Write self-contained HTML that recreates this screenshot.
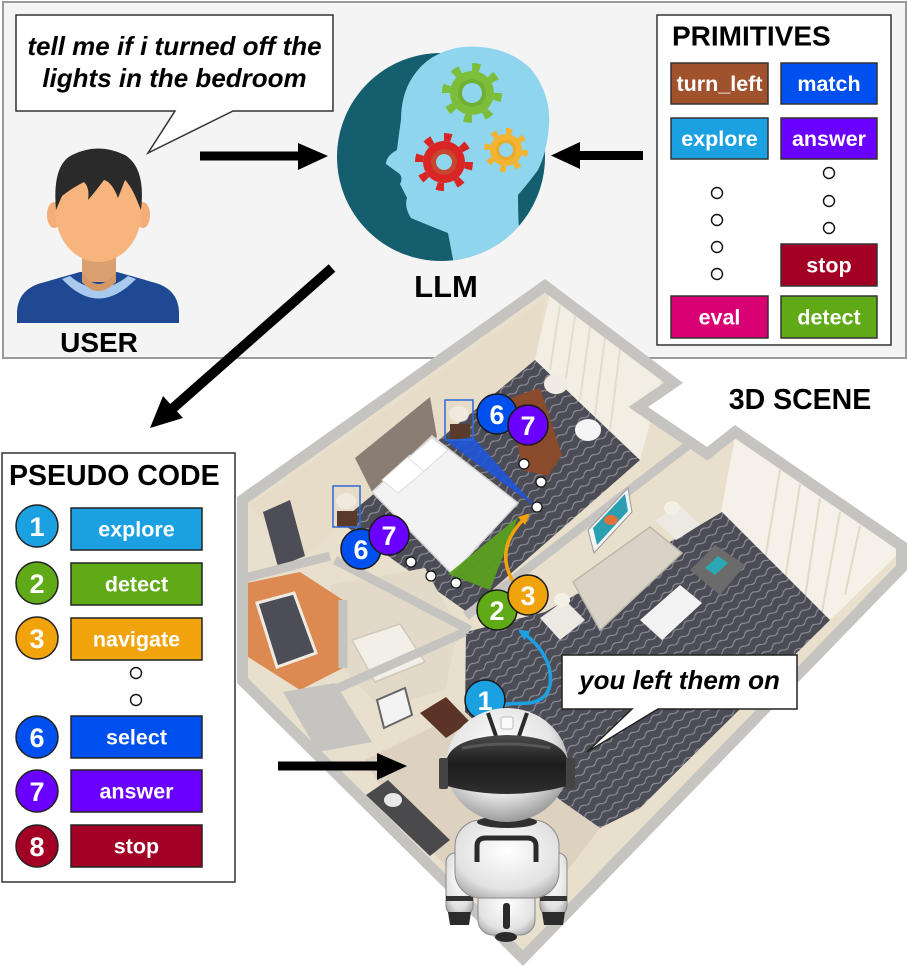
<!DOCTYPE html>
<html><head><meta charset="utf-8"><style>
html,body{margin:0;padding:0;background:#fff;}
svg{display:block;}
text{font-family:"Liberation Sans",Arial,sans-serif;font-weight:bold;}
</style></head><body>
<svg width="908" height="968" viewBox="0 0 908 968" xmlns="http://www.w3.org/2000/svg">
<defs>
<pattern id="carpet" width="14" height="9" patternUnits="userSpaceOnUse" patternTransform="rotate(-38)">
<rect width="14" height="9" fill="#4c4c56"/>
<path d="M0,4.5 Q3.5,1.5 7,4.5 T14,4.5" stroke="#8e8e98" stroke-width="1.1" fill="none"/>
</pattern>
<clipPath id="bld"><polygon points="237,497 545,279 683,383 648,407 707,447 735,425 907,543 907,570 523,966 237,683"/></clipPath>
<clipPath id="headclip"><circle cx="441" cy="157" r="104"/><rect x="380" y="30" width="180" height="135"/></clipPath>
<radialGradient id="rhead" cx="0.45" cy="0.35" r="0.65"><stop offset="0" stop-color="#ffffff"/><stop offset="0.65" stop-color="#e4e4e4"/><stop offset="1" stop-color="#9c9c9c"/></radialGradient>
<radialGradient id="rbody" cx="0.5" cy="0.4" r="0.7"><stop offset="0" stop-color="#ffffff"/><stop offset="0.7" stop-color="#e2e2e2"/><stop offset="1" stop-color="#a5a5a5"/></radialGradient>
<linearGradient id="visor" x1="0" y1="0" x2="0" y2="1"><stop offset="0" stop-color="#4a4a4a"/><stop offset="0.5" stop-color="#1c1c1c"/><stop offset="1" stop-color="#2e2e2e"/></linearGradient>
<marker id="mo" viewBox="0 0 10 10" refX="8" refY="5" markerWidth="11" markerHeight="11" orient="auto" markerUnits="userSpaceOnUse"><path d="M0,0 L10,5 L0,10 z" fill="#f0a30a"/></marker>
<marker id="mb" viewBox="0 0 10 10" refX="8" refY="5" markerWidth="11" markerHeight="11" orient="auto" markerUnits="userSpaceOnUse"><path d="M0,0 L10,5 L0,10 z" fill="#1ba1e2"/></marker>
</defs>

<!-- top panel -->
<rect x="3" y="2" width="903" height="356" fill="#f4f4f4" stroke="#9a9a9a" stroke-width="2"/>

<!-- user speech bubble -->
<path d="M16,15 H333 V111 H233 L148,153 L175,111 H16 Z" fill="#fff" stroke="#333" stroke-width="1.5"/>
<text x="174.5" y="55" font-size="26" font-style="italic" text-anchor="middle" fill="#000">tell me if i turned off the</text>
<text x="174.5" y="87" font-size="26" font-style="italic" text-anchor="middle" fill="#000">lights in the bedroom</text>

<!-- user icon -->
<path d="M17,323 L17,312 Q18,288 45,282 Q62,277 80,272 L117,272 Q135,277 152,282 Q178,288 179,312 L179,323 Z" fill="#1f4a93"/>
<path d="M62,279 Q98,318 136,279 L128,276 Q98,300 70,276 Z" fill="#a9c9ee"/>
<rect x="82" y="250" width="34" height="32" fill="#dba06f"/>
<path d="M82,272 Q98,296 116,272 L116,282 Q98,300 82,282 Z" fill="#d49867"/>
<ellipse cx="54" cy="215" rx="7" ry="13" fill="#f4ad76"/>
<ellipse cx="143" cy="215" rx="7" ry="13" fill="#f4ad76"/>
<ellipse cx="98.5" cy="212" rx="43" ry="50" fill="#f8b47d"/>
<path d="M56,210 Q52,165 72,155 Q98,142 125,155 Q146,168 141,210 L136,198 Q131,186 125,180 L118,198 Q112,182 104,180 Q95,192 88,200 Q90,188 84,182 Q72,188 62,196 Z" fill="#2a2a2a"/>
<text x="99" y="352" font-size="28" text-anchor="middle" fill="#000">USER</text>

<!-- arrow user -> LLM -->
<rect x="200" y="151.5" width="100" height="9" fill="#000"/>
<polygon points="298,143 328,156 298,170" fill="#000"/>

<!-- LLM icon -->
<circle cx="441" cy="157" r="104" fill="#155e6d"/>
<path clip-path="url(#headclip)" d="M455,270 L448,233 Q425,224 411,218 Q404,207 407,198 L400,184 Q404,176 397,172 L386,164 Q386,156 397,150 Q399,133 401,120 Q401,95 412,78 Q428,52 462,47 Q506,44 531,69 Q551,94 549,125 Q547,152 538,170 Q526,186 518,195 Q518,230 522,270 Z" fill="#8fd5ee"/>
<g>
<circle cx="472" cy="93" r="26" fill="none" stroke="#7cbd3a" stroke-width="8" stroke-dasharray="8 12.4"/>
<circle cx="472" cy="93" r="22" fill="#7cbd3a"/>
<circle cx="472" cy="93" r="14" fill="#6fb033"/>
<circle cx="472" cy="93" r="10" fill="#8fd5ee"/>
</g>
<g>
<circle cx="444" cy="162" r="25" fill="none" stroke="#da2525" stroke-width="8" stroke-dasharray="7.5 12.1"/>
<circle cx="444" cy="162" r="21" fill="#da2525"/>
<circle cx="444" cy="162" r="13" fill="#c7452d"/>
<circle cx="444" cy="162" r="8" fill="#8fd5ee"/>
</g>
<g>
<circle cx="506" cy="150" r="19" fill="none" stroke="#f2b431" stroke-width="6" stroke-dasharray="6 8.9"/>
<circle cx="506" cy="150" r="16" fill="#f2b431"/>
<circle cx="506" cy="150" r="10" fill="#e9a92a"/>
<circle cx="506" cy="150" r="7" fill="#8fd5ee"/>
</g>
<text x="446" y="297" font-size="31" text-anchor="middle" fill="#000">LLM</text>

<!-- arrow primitives -> LLM -->
<rect x="578" y="151" width="65" height="9" fill="#000"/>
<polygon points="580,142 551,155.5 580,169" fill="#000"/>

<!-- primitives box -->
<rect x="657" y="15" width="234" height="330" fill="#fff" stroke="#333" stroke-width="1.5"/>
<text x="672" y="45.5" font-size="28" fill="#000">PRIMITIVES</text>
<g stroke="#333" stroke-width="1.5">
<rect x="671" y="63" width="97" height="41" fill="#a0522d"/>
<rect x="781" y="63" width="96" height="41" fill="#0050ef"/>
<rect x="671" y="118" width="97" height="41" fill="#1ba1e2"/>
<rect x="781" y="118" width="96" height="41" fill="#6a00ff"/>
<rect x="781" y="244" width="96" height="42" fill="#a20025"/>
<rect x="671" y="296" width="97" height="42" fill="#d80073"/>
<rect x="781" y="296" width="96" height="42" fill="#60a917"/>
</g>
<g font-size="21.5" fill="#fff" text-anchor="middle">
<text x="719.5" y="91">turn_left</text>
<text x="829" y="91">match</text>
<text x="719.5" y="146">explore</text>
<text x="829" y="146">answer</text>
<text x="829" y="272.5">stop</text>
<text x="719.5" y="324.5">eval</text>
<text x="829" y="324.5">detect</text>
</g>
<g fill="#fff" stroke="#111" stroke-width="1.4">
<circle cx="717" cy="193" r="5.5"/><circle cx="717" cy="220" r="5.5"/><circle cx="717" cy="247" r="5.5"/><circle cx="717" cy="274" r="5.5"/>
<circle cx="829" cy="173" r="5.5"/><circle cx="829" cy="201" r="5.5"/><circle cx="829" cy="228" r="5.5"/>
</g>

<!-- diagonal arrow LLM -> pseudo code -->
<line x1="332" y1="268" x2="172" y2="409" stroke="#000" stroke-width="10"/>
<polygon points="150,428 163,396 183,418" fill="#000"/>

<!-- ===== 3D SCENE ===== -->
<g clip-path="url(#bld)">
<polygon points="237,497 545,279 683,383 648,407 707,447 735,425 907,543 907,570 523,966 237,683" fill="#e8dfcd"/>
<polygon points="250,505 545,298 535,360 340,522 300,560" fill="#e6dcc8"/>
<polygon points="550,293 662,378 640,460 535,360" fill="#f3eee4"/>
<g stroke="#e2dccf" stroke-width="2"><line x1="560" y1="305" x2="550" y2="370"/><line x1="575" y1="316" x2="565" y2="385"/><line x1="590" y1="327" x2="580" y2="400"/><line x1="605" y1="338" x2="595" y2="415"/><line x1="620" y1="349" x2="610" y2="430"/></g>
<polygon points="735,437 900,552 830,620 720,517" fill="#f5f1e9"/>
<g stroke="#e0d9cb" stroke-width="2"><line x1="780" y1="470" x2="765" y2="560"/><line x1="800" y1="484" x2="785" y2="580"/><line x1="820" y1="498" x2="805" y2="598"/><line x1="840" y1="512" x2="822" y2="612"/><line x1="860" y1="526" x2="845" y2="595"/></g>
<polygon points="340,522 535,360 640,460 467,612" fill="url(#carpet)"/>
<polygon points="466,632 545,612 700,525 722,512 830,620 640,808 600,828 560,800 465,712" fill="url(#carpet)"/>
<polygon points="365,760 463,712 560,800 600,828 560,880 480,900 400,820" fill="#ddd2bf"/>
<polygon points="330,585 425,568 458,628 445,690 380,708 343,668" fill="#e2d9c9"/>
<polygon points="352,640 400,624 425,662 375,682" fill="#f2efe9" stroke="#cfc7b8" stroke-width="1.5"/>
<polygon points="237,585 300,572 343,600 343,668 300,690 237,650" fill="#dd8a52"/>
<polygon points="257,603 294,593 316,653 277,667" fill="#4d4d57" stroke="#f0ebe2" stroke-width="3"/>
<polygon points="263,512 290,500 305,556 278,567" fill="#4d4d57"/>
<g stroke="#c6c4c0" stroke-width="9" fill="none">
<line x1="700" y1="436" x2="466" y2="616"/>
<line x1="335" y1="560" x2="470" y2="630"/>
<line x1="300" y1="705" x2="465" y2="632"/>
<line x1="237" y1="580" x2="330" y2="556"/>
<line x1="343" y1="600" x2="343" y2="668"/>
</g>
<polygon points="283,692 335,683 372,742 318,752" fill="#c6c4c0"/>
<polygon points="237,497 545,279 683,383 648,407 707,447 735,425 907,543 907,570 523,966 237,683" fill="none" stroke="#c6c4c0" stroke-width="22"/>
<polygon points="355,458 430,397 437,437 372,492" fill="#8a7d74"/>
<polygon points="372,492 432,436 518,503 452,574" fill="#f3f3f3" stroke="#d4d4d4" stroke-width="1.5"/>
<polygon points="382,480 410,455 428,468 398,493" fill="#ffffff" stroke="#ddd" stroke-width="1"/>
<polygon points="408,458 432,438 448,450 424,471" fill="#ffffff" stroke="#ddd" stroke-width="1"/>
<rect x="450" y="424" width="20" height="16" fill="#5a3a2a"/>
<ellipse cx="459" cy="414" rx="10" ry="8" fill="#efe9de"/>
<rect x="337" y="511" width="20" height="16" fill="#5a3a2a"/>
<ellipse cx="346" cy="501" rx="10" ry="8" fill="#efe9de"/>
<polygon points="510,398 540,388 562,455 548,476 522,470" fill="#8a4a2c"/>
<ellipse cx="588" cy="430" rx="13" ry="11" fill="#f5f5f5"/>
<ellipse cx="556" cy="384" rx="12" ry="10" fill="#f0ece4"/>
<polygon points="588,530 628,488 632,512 594,553" fill="#f4f4f4" stroke="#999" stroke-width="1"/>
<polygon points="593,528 625,494 628,511 597,545" fill="#2a9fb2"/>
<ellipse cx="611" cy="520" rx="7" ry="5" fill="#e2703a"/>
<polygon points="573,582 650,527 682,553 600,630" fill="#d9d3c7" stroke="#bfb8aa" stroke-width="1.5"/>
<polygon points="540,618 565,600 585,620 560,640" fill="#ece9e3"/>
<polygon points="655,520 680,505 700,525 676,540" fill="#ece9e3"/>
<ellipse cx="672" cy="508" rx="8" ry="7" fill="#f4f0e6"/>
<ellipse cx="562" cy="600" rx="8" ry="7" fill="#f4f0e6"/>
<polygon points="640,620 680,585 702,603 662,640" fill="#f3f3f3"/>
<polygon points="690,570 715,545 745,565 720,595" fill="#6b6b6b"/>
<polygon points="705,568 718,556 728,563 715,575" fill="#2ba8b4"/>
<polygon points="366,795 388,780 450,840 430,856" fill="#4a494c"/>
<ellipse cx="393" cy="800" rx="9" ry="7" fill="#e8e8e8"/>
<polygon points="420,713 446,697 470,722 446,738" fill="#5b3426"/>
<polygon points="377,700 405,688 412,715 384,728" fill="#f3f3f3" stroke="#666" stroke-width="2"/>
</g>

<!-- annotations in scene -->
<polygon points="446,441 473,437 537,508" fill="#1f55d8" opacity="0.9"/>
<polygon points="448,574 518,517 490,590" fill="#5a9e1f" opacity="0.95"/>
<rect x="445" y="400" width="28" height="40" fill="none" stroke="#2f6ad8" stroke-width="1.5"/>
<rect x="333" y="486" width="27" height="41" fill="none" stroke="#2f6ad8" stroke-width="1.5"/>
<g fill="#fff" stroke="#111" stroke-width="1.2">
<circle cx="524" cy="464" r="5"/><circle cx="541" cy="482" r="5"/><circle cx="537" cy="507" r="5"/>
<circle cx="411" cy="562" r="5"/><circle cx="431" cy="576" r="5"/><circle cx="456" cy="583" r="5"/>
</g>
<path d="M514,583 Q492,548 528,515" fill="none" stroke="#f0a30a" stroke-width="3.5" marker-end="url(#mo)"/>
<path d="M503,704 L530,703 Q556,698 549,667 Q542,645 520,631" fill="none" stroke="#1ba1e2" stroke-width="3.5" marker-end="url(#mb)"/>

<g stroke="#1a1a1a" stroke-width="1.5">
<circle cx="497" cy="414" r="20" fill="#0050ef"/>
<circle cx="528" cy="425" r="20" fill="#6a00ff"/>
<circle cx="361" cy="549" r="20" fill="#0050ef"/>
<circle cx="389" cy="535" r="20" fill="#6a00ff"/>
<circle cx="497" cy="610" r="20" fill="#60a917"/>
<circle cx="528" cy="595" r="20" fill="#f0a30a"/>
<circle cx="485" cy="700" r="20" fill="#1ba1e2"/>
</g>
<g font-size="27" fill="#fff" text-anchor="middle">
<text x="497" y="424">6</text>
<text x="528" y="435">7</text>
<text x="361" y="559">6</text>
<text x="389" y="545">7</text>
<text x="497" y="620">2</text>
<text x="528" y="605">3</text>
<text x="485" y="710">1</text>
</g>

<!-- robot -->
<g>
<rect x="446" y="853" width="27" height="62" rx="9" fill="url(#rbody)" stroke="#8a8a8a" stroke-width="1"/>
<rect x="540" y="853" width="27" height="62" rx="9" fill="url(#rbody)" stroke="#8a8a8a" stroke-width="1"/>
<rect x="446" y="896" width="27" height="5" fill="#333"/>
<rect x="540" y="896" width="27" height="5" fill="#333"/>
<path d="M448,912 L471,912 L469,925 L450,925 Z" fill="#2b2b2b"/>
<path d="M542,912 L565,912 L563,925 L544,925 Z" fill="#2b2b2b"/>
<rect x="478" y="885" width="57" height="50" rx="15" fill="url(#rbody)" stroke="#8a8a8a" stroke-width="1"/>
<rect x="503" y="903" width="7" height="26" rx="3" fill="#2b2b2b"/>
<ellipse cx="506" cy="937" rx="11" ry="5" fill="#2b2b2b"/>
<rect x="455" y="820" width="104" height="78" rx="26" fill="url(#rbody)" stroke="#8a8a8a" stroke-width="1"/>
<path d="M477,862 L477,846 Q477,838 486,838 L527,838 Q536,838 536,846 L536,862" fill="none" stroke="#2b2b2b" stroke-width="5"/>
<ellipse cx="507" cy="822" rx="30" ry="6" fill="#2f2f2f"/>
<ellipse cx="507" cy="765" rx="61" ry="57" fill="url(#rhead)"/>
<path d="M488,713 L496,736 M527,713 L519,736" stroke="#2b2b2b" stroke-width="4"/>
<rect x="501" y="717" width="12" height="12" rx="2" fill="#fafafa" stroke="#bbb" stroke-width="1"/>
<path d="M446,762 Q450,737 507,735 Q564,737 568,762 L567,786 Q507,802 447,786 Z" fill="url(#visor)"/>
<path d="M462,748 Q507,740 550,748" stroke="#6a6a6a" stroke-width="3" fill="none" opacity="0.6"/>
<rect x="439" y="758" width="9" height="31" rx="2" fill="#444"/>
<rect x="566" y="758" width="9" height="31" rx="2" fill="#444"/>
</g>

<!-- arrow to robot -->
<rect x="278" y="761.5" width="101" height="9" fill="#000"/>
<polygon points="377,753 407,766 377,780" fill="#000"/>

<!-- response bubble -->
<path d="M562,655 H797 V709 H658 L587,752 L632,709 H562 Z" fill="#fff" stroke="#222" stroke-width="1.5"/>
<text x="679.5" y="689" font-size="26" font-style="italic" text-anchor="middle" fill="#000">you left them on</text>

<text x="800" y="409" font-size="28.5" text-anchor="middle" fill="#000">3D SCENE</text>

<!-- pseudo code box -->
<rect x="2" y="453" width="233" height="429" fill="#fff" stroke="#333" stroke-width="1.5"/>
<text x="9" y="485" font-size="28.5" fill="#000">PSEUDO CODE</text>
<g stroke="#222" stroke-width="1.5">
<circle cx="37" cy="526" r="21" fill="#1ba1e2"/>
<circle cx="37" cy="583" r="21" fill="#60a917"/>
<circle cx="37" cy="638" r="21" fill="#f0a30a"/>
<circle cx="37" cy="737" r="21" fill="#0050ef"/>
<circle cx="37" cy="791" r="21" fill="#6a00ff"/>
<circle cx="37" cy="846" r="21" fill="#a20025"/>
<rect x="71" y="508" width="131" height="42" fill="#1ba1e2"/>
<rect x="71" y="563" width="131" height="42" fill="#60a917"/>
<rect x="71" y="618" width="131" height="42" fill="#f0a30a"/>
<rect x="71" y="716" width="131" height="42" fill="#0050ef"/>
<rect x="71" y="770" width="131" height="42" fill="#6a00ff"/>
<rect x="71" y="825" width="131" height="42" fill="#a20025"/>
</g>
<g font-size="27" fill="#fff" text-anchor="middle">
<text x="37" y="536">1</text>
<text x="37" y="593">2</text>
<text x="37" y="648">3</text>
<text x="37" y="747">6</text>
<text x="37" y="801">7</text>
<text x="37" y="856">8</text>
</g>
<g font-size="21.5" fill="#fff" text-anchor="middle">
<text x="136.5" y="536.5">explore</text>
<text x="136.5" y="591.5">detect</text>
<text x="136.5" y="646.5">navigate</text>
<text x="136.5" y="744.5">select</text>
<text x="136.5" y="798.5">answer</text>
<text x="136.5" y="853.5">stop</text>
</g>
<g fill="#fff" stroke="#111" stroke-width="1.4">
<circle cx="136" cy="673" r="5.5"/><circle cx="136" cy="700" r="5.5"/>
</g>
</svg>
</body></html>
